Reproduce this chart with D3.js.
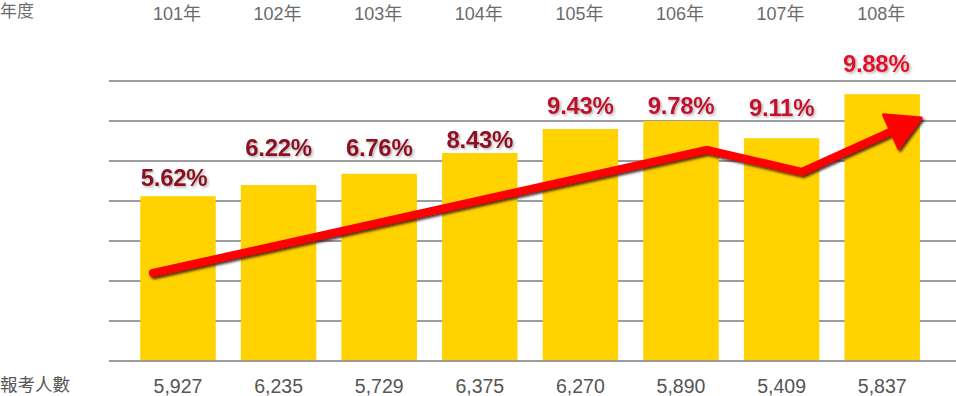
<!DOCTYPE html>
<html>
<head>
<meta charset="utf-8">
<script src="https://cdn.jsdelivr.net/npm/d3@7"></script>
<style>
  html, body { margin: 0; padding: 0; background: #fff; }
  svg { display: block; }
  text { font-family: "Liberation Sans", "Noto Sans CJK TC", sans-serif; }
</style>
</head>
<body>
<svg id="chart" width="956" height="396"></svg>
<script>
// ---------- data ----------
const years = ["101年", "102年", "103年", "104年", "105年", "106年", "107年", "108年"];
const applicants = ["5,927", "6,235", "5,729", "6,375", "6,270", "5,890", "5,409", "5,837"];
const rates = ["5.62%", "6.22%", "6.76%", "8.43%", "9.43%", "9.78%", "9.11%", "9.88%"];
// bar heights, in grid units (one unit per gridline)
const barValues = [4.12, 4.4, 4.68, 5.2, 5.8, 6.0, 5.57, 6.67];
// level (grid units) at which each rate label sits
const labelLevels = [4.38, 5.13, 5.13, 5.32, 6.18, 6.18, 6.13, 7.22];
// trend arrow annotation: category position (index) and level (grid units)
const arrowIndex = [-0.25, 5.255, 6.2, 7.39];
const arrowLevel = [2.2, 5.28, 4.73, 6.08];
const gridTicks = [0, 1, 2, 3, 4, 5, 6, 7];
const rowTitleTop = "年度";
const rowTitleBottom = "報考人數";

// ---------- setup ----------
const svg = d3.select("#chart");
const W = 956, H = 396;

const x = d3.scaleBand().domain(years).range([127.7, 932.5]).paddingInner(0.25).paddingOuter(0.125);
const y = d3.scaleLinear().domain([0, 7]).range([361, 81]);
const step = x.step();
const cx = i => x(years[0]) + x.bandwidth() / 2 + i * step;

const defs = svg.append("defs");
const fs = defs.append("filter").attr("id", "txtShadow").attr("x", "-20%").attr("y", "-30%").attr("width", "140%").attr("height", "160%");
fs.append("feDropShadow").attr("dx", 1.5).attr("dy", 1.5).attr("stdDeviation", 0.9)
  .attr("flood-color", "#777").attr("flood-opacity", 0.55);
const fa = defs.append("filter").attr("id", "arrowShadow").attr("x", "-10%").attr("y", "-20%").attr("width", "120%").attr("height", "140%");
fa.append("feDropShadow").attr("dx", 1.8).attr("dy", 2.2).attr("stdDeviation", 0.9)
  .attr("flood-color", "#3a0a0a").attr("flood-opacity", 0.85);

// ---------- gridlines ----------
svg.append("g").selectAll("line").data(gridTicks.filter(d => d > 0)).join("line")
  .attr("x1", 109).attr("x2", W)
  .attr("y1", d => y(d)).attr("y2", d => y(d))
  .attr("stroke", "#7d7d7d").attr("stroke-width", 1.3);

// ---------- bars ----------
svg.append("g").selectAll("rect").data(barValues).join("rect")
  .attr("x", (d, i) => x(years[i]))
  .attr("width", x.bandwidth())
  .attr("y", d => y(d))
  .attr("height", d => y(0) - 0.6 - y(d))
  .attr("fill", "#FFD200");

// baseline
svg.append("line").attr("x1", 109).attr("x2", W).attr("y1", y(0)).attr("y2", y(0))
  .attr("stroke", "#7d7d7d").attr("stroke-width", 1.3);

// ---------- trend arrow ----------
const pts = arrowIndex.map((v, i) => [cx(v), y(arrowLevel[i])]);
const tip = pts[pts.length - 1];
const prev = pts[pts.length - 2];
const dx = tip[0] - prev[0], dy = tip[1] - prev[1];
const len = Math.hypot(dx, dy);
const ux = dx / len, uy = dy / len;
const headLen = 33.5, headHalf = 18.7;
const base = [tip[0] - ux * headLen, tip[1] - uy * headLen];
const linePts = pts.slice(0, -1).concat([[base[0] + ux * 4, base[1] + uy * 4]]);

const arrowG = svg.append("g").attr("filter", "url(#arrowShadow)");
arrowG.append("path")
  .attr("d", d3.line()(linePts))
  .attr("fill", "none").attr("stroke", "#FF0000").attr("stroke-width", 8)
  .attr("stroke-linecap", "round").attr("stroke-linejoin", "miter");
arrowG.append("path")
  .attr("d", d3.line()([
    tip,
    [base[0] - uy * headHalf, base[1] + ux * headHalf],
    [base[0] + uy * headHalf, base[1] - ux * headHalf]
  ]) + "Z")
  .attr("fill", "#FF0000").attr("stroke", "#FF0000").attr("stroke-width", 2.5)
  .attr("stroke-linejoin", "round");

// ---------- rate labels ----------
const labelColor = d3.scaleLinear().domain([0, 3, 4, 6, 7])
  .range(["#8c0a1f", "#930b21", "#c0102c", "#c8112d", "#e4102a"]);
svg.append("g").selectAll("text").data(rates).join("text")
  .attr("x", (d, i) => cx(i) - (i === 0 ? 4 : i === 7 ? 6 : 0))
  .attr("y", (d, i) => y(labelLevels[i]))
  .attr("text-anchor", "middle")
  .attr("font-size", 24).attr("font-weight", "bold").attr("letter-spacing", -0.3)
  .attr("fill", (d, i) => labelColor(i))
  .attr("filter", "url(#txtShadow)")
  .text(d => d);

// ---------- top row: years ----------
svg.append("text").attr("x", 0).attr("y", 17).attr("font-size", 17).attr("fill", "#6b6b6b").text(rowTitleTop);
svg.append("g").selectAll("text").data(years).join("text")
  .attr("x", (d, i) => cx(i) - 1)
  .attr("y", 20)
  .attr("text-anchor", "middle")
  .attr("font-size", 18).attr("fill", "#6b6b6b")
  .text(d => d);

// ---------- bottom row: applicants ----------
svg.append("text").attr("x", 0).attr("y", 391).attr("font-size", 17.5).attr("fill", "#555").text(rowTitleBottom);
svg.append("g").selectAll("text").data(applicants).join("text")
  .attr("x", (d, i) => cx(i))
  .attr("y", 393)
  .attr("text-anchor", "middle")
  .attr("font-size", 19.5).attr("fill", "#555")
  .text(d => d);
</script>
</body>
</html>
